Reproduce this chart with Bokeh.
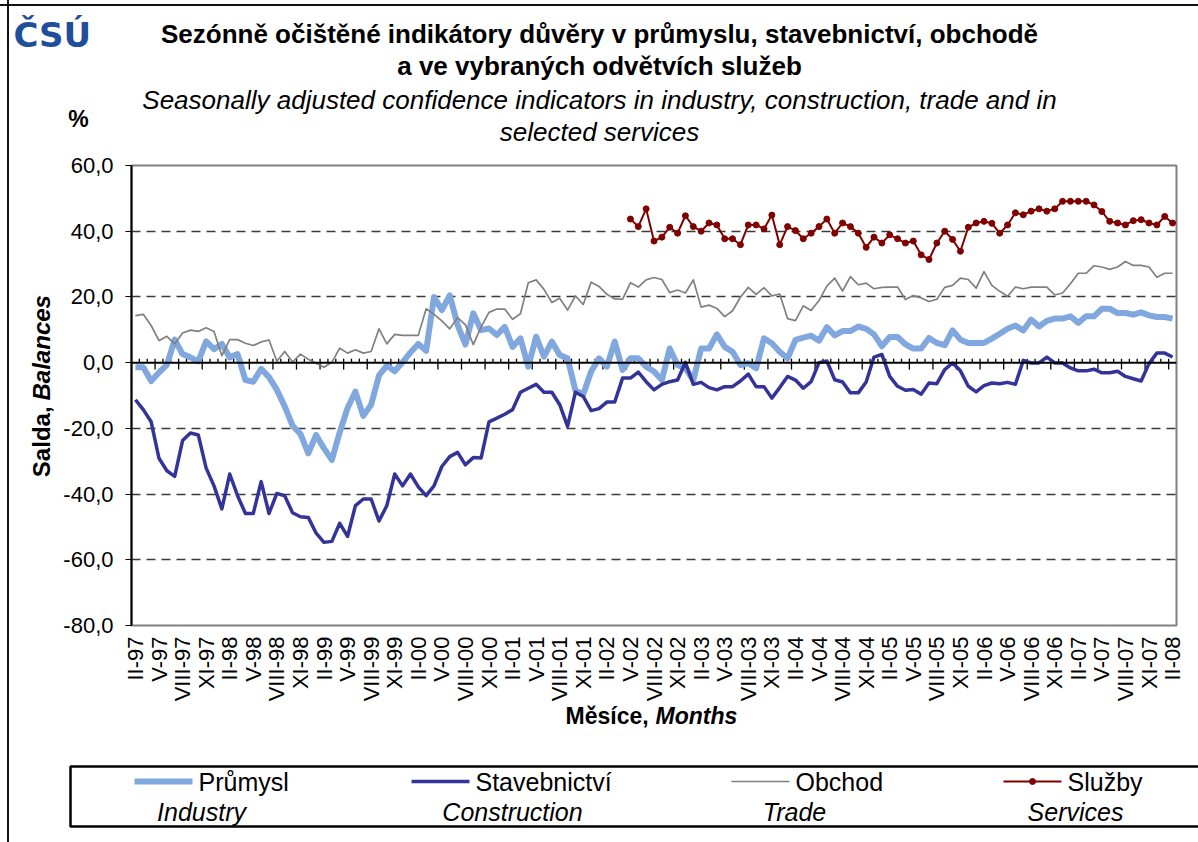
from math import pi
from bokeh.plotting import figure
from bokeh.models import Range1d, FixedTicker, Label, Span
from bokeh.layouts import row
from bokeh.embed import file_html
from bokeh.resources import INLINE

# ---------------- data ----------------
tick_labels = [
    "II-97", "V-97", "VIII-97", "XI-97", "II-98", "V-98", "VIII-98", "XI-98",
    "II-99", "V-99", "VIII-99", "XI-99", "II-00", "V-00", "VIII-00", "XI-00",
    "II-01", "V-01", "VIII-01", "XI-01", "II-02", "V-02", "VIII-02", "XI-02",
    "II-03", "V-03", "VIII-03", "XI-03", "II-04", "V-04", "VIII-04", "XI-04",
    "II-05", "V-05", "VIII-05", "XI-05", "II-06", "V-06", "VIII-06", "XI-06",
    "II-07", "V-07", "VIII-07", "XI-07", "II-08",
]

# monthly values II-97 .. II-08
industry = [
    -1.4, -1.4, -5.6, -3.0, -0.7, 7.0, 2.6, 1.6, 0.4, 6.5,
    4.1, 5.7, 1.6, 2.6, -5.3, -5.8, -1.9, -4.4, -8.3, -13.3,
    -19.2, -21.7, -27.6, -22.0, -26.1, -29.6, -21.2, -13.8, -8.8, -16.2,
    -12.8, -3.9, -0.9, -2.6, 0.1, 3.1, 5.7, 3.6, 20.0, 16.0,
    20.5, 11.5, 5.5, 15.0, 9.9, 10.4, 8.4, 10.9, 4.8, 7.4,
    -1.2, 7.9, 1.8, 6.4, 2.3, 1.3, -8.5, -9.6, -2.7, 1.3,
    -1.2, 6.4, -2.2, 1.3, 1.3, -1.2, -2.7, -5.3, 4.3, -0.7,
    -1.7, -5.3, 4.3, 4.3, 8.6, 4.8, 3.3, -0.7, -0.2, -1.7,
    7.4, 5.9, 3.3, 1.3, 6.9, 7.6, 8.2, 6.7, 10.8, 8.3,
    9.6, 9.6, 11.0, 10.3, 8.6, 5.0, 7.8, 7.8, 5.6, 4.3,
    4.3, 7.5, 6.0, 5.3, 9.8, 7.0, 6.0, 6.0, 6.0, 7.3,
    8.8, 10.3, 11.3, 9.8, 13.1, 11.0, 12.7, 13.4, 13.4, 14.1,
    12.1, 14.1, 14.1, 16.4, 16.4, 15.1, 15.1, 14.6, 15.3, 14.4,
    13.9, 13.9, 13.4,
]

construction = [
    -11.3, -14.3, -18.0, -29.1, -32.9, -34.6, -23.7, -21.4, -22.0, -32.1,
    -37.5, -44.5, -33.9, -40.5, -45.9, -45.9, -36.2, -45.9, -39.8, -40.5,
    -45.7, -46.9, -47.1, -51.9, -54.7, -54.4, -48.9, -52.9, -43.5, -41.5,
    -41.5, -48.2, -43.5, -33.9, -37.5, -33.9, -37.8, -40.5, -37.5, -31.6,
    -28.6, -27.3, -31.1, -28.9, -29.0, -18.0, -16.9, -15.7, -14.3, -9.0,
    -7.8, -6.6, -9.0, -9.0, -12.8, -19.4, -9.0, -10.3, -14.6, -14.0,
    -12.0, -12.0, -4.7, -4.7, -2.9, -5.8, -8.3, -6.6, -5.8, -5.3,
    0.1, -6.6, -6.0, -7.6, -8.3, -7.3, -7.3, -5.6, -3.5, -7.3,
    -7.3, -10.8, -7.6, -4.2, -5.3, -7.8, -5.8, 0.0, 0.5, -5.2,
    -5.9, -9.2, -9.2, -5.9, 1.7, 2.5, -4.2, -7.2, -8.4, -8.2,
    -9.6, -6.2, -6.4, -2.1, -0.1, -2.5, -7.2, -8.9, -7.0, -6.2,
    -6.4, -6.0, -6.6, 0.7, -0.1, -0.1, 1.7, -0.1, -0.1, -1.6,
    -2.5, -2.5, -2.0, -3.1, -3.1, -2.6, -4.2, -4.9, -5.6, -0.3,
    2.9, 2.9, 1.7,
]

trade = [
    14.3, 14.7, 11.3, 6.7, 8.0, 5.7, 9.0, 9.9, 9.5, 10.6,
    9.5, 2.1, 7.0, 7.0, 5.9, 5.2, 6.3, 6.9, 0.4, 3.4,
    0.2, 2.6, 1.0, -0.2, -1.4, 0.1, 4.4, 2.9, 3.9, 2.9,
    3.4, 10.3, 5.7, 8.6, 8.3, 8.3, 8.3, 16.4, 14.7, 12.7,
    10.3, 13.7, 11.5, 5.5, 10.9, 15.3, 16.3, 16.3, 13.2, 14.9,
    24.3, 25.2, 22.3, 18.3, 19.6, 16.0, 20.3, 17.7, 24.5, 23.2,
    20.8, 19.4, 19.3, 24.3, 23.0, 25.2, 25.9, 25.3, 21.3, 22.1,
    21.2, 25.2, 16.9, 17.5, 16.5, 14.0, 15.8, 19.9, 22.9, 20.8,
    22.8, 20.3, 20.9, 13.4, 12.8, 17.3, 15.9, 18.9, 23.3, 25.7,
    21.8, 26.2, 23.7, 24.2, 22.5, 22.9, 23.0, 23.0, 19.2, 20.4,
    19.7, 18.6, 19.3, 22.9, 23.5, 25.7, 25.3, 22.7, 27.7, 23.5,
    21.7, 20.2, 23.0, 22.5, 23.0, 23.0, 23.0, 20.6, 21.2, 24.0,
    27.2, 27.2, 29.5, 29.1, 28.4, 29.1, 30.8, 29.6, 29.6, 29.1,
    26.0, 27.2, 27.2,
]

# services start in V-02 (month index 63)
services_start = 63
services = [
    43.7, 41.4, 46.8, 37.0, 38.2, 41.2, 39.4, 44.7, 41.4, 40.0,
    42.5, 41.9, 37.7, 37.7, 35.9, 41.9, 41.9, 40.7, 44.9, 35.9,
    41.4, 40.2, 37.7, 39.4, 41.4, 43.7, 39.4, 42.5, 41.4, 39.4,
    35.1, 38.2, 36.4, 38.9, 37.7, 36.4, 37.0, 32.8, 31.4, 36.4,
    40.0, 37.5, 33.9, 41.2, 42.5, 43.0, 42.4, 39.4, 41.9, 45.6,
    45.0, 46.1, 46.8, 46.1, 46.8, 49.1, 49.1, 49.1, 49.1, 48.0,
    46.0, 43.0, 42.5, 41.9, 43.2, 43.5, 42.5, 41.9, 44.5, 42.5,
]

y_ticks = [-80, -60, -40, -20, 0, 20, 40, 60]

# ---------------- layout (page pixels) ----------------
n = len(industry)
xs = list(range(n))
sxs = list(range(services_start, services_start + len(services)))
label_pos = list(range(0, n, 3))

W = 1198
H_HEAD = 150
H_MID = 554
H_BOT = 842 - H_HEAD - H_MID
STRIP_W = 60
FRAME_L, FRAME_R, FRAME_T, FRAME_B = 131, 1176, 165, 627
uy = (FRAME_B - FRAME_T) / 140.0
FONT = "Liberation Sans"
B_TOP = FRAME_T - H_HEAD
B_BOT = H_HEAD + H_MID - FRAME_B

LEFT_LINE = "linear-gradient(to right, transparent 7px, #111 7px, #111 9px, transparent 9px)"
TOP_LINE = "linear-gradient(to bottom, transparent 4px, #111 4px, #111 6px, transparent 6px)"


def blank(width, height, xr, yr, bg=LEFT_LINE, **kw):
    f = figure(width=width, height=height, x_range=Range1d(*xr), y_range=Range1d(*yr),
               output_backend="svg", toolbar_location=None,
               x_axis_location=None, y_axis_location=None, **kw)
    f.outline_line_color = None
    f.xgrid.visible = False
    f.ygrid.visible = False
    f.background_fill_color = None
    f.border_fill_color = None
    f.styles = {"background": bg + ", #ffffff"}
    return f


def lab(fig, x, y, text, size, style="normal", align="left", baseline="middle",
        angle=0, color="black", font=FONT):
    fig.add_layout(Label(x=x, y=y, text=text, text_font=font, text_font_size=size,
                         text_font_style=style, text_align=align, text_baseline=baseline,
                         angle=angle, text_color=color))


# ---- header ----
head = blank(W, H_HEAD, (0, W), (H_HEAD, 0), bg=LEFT_LINE + ", " + TOP_LINE, min_border=0)
lab(head, 13, 34, "ČSÚ", "34px", "bold", color="#1F4E9A", font="DejaVu Sans")
lab(head, 599, 33, "Sezónně očištěné indikátory důvěry v průmyslu, stavebnictví, obchodě",
    "26px", "bold", align="center")
lab(head, 599, 65, "a ve vybraných odvětvích služeb", "26px", "bold", align="center")
lab(head, 599, 99, "Seasonally adjusted confidence indicators in industry, construction, trade and in",
    "26px", "italic", align="center")
lab(head, 599, 131, "selected services", "26px", "italic", align="center")
lab(head, 78, 118, "%", "23px", "bold", align="center")

# ---- y-axis title strip ----
strip = blank(STRIP_W, H_MID, (0, STRIP_W), (FRAME_B, FRAME_T),
              min_border_left=0, min_border_right=0, min_border_top=B_TOP, min_border_bottom=B_BOT)
lab(strip, 41, 478, "Salda, ", "24px", "bold", angle=pi / 2)
lab(strip, 41, 478 - 77, "Balances", "24px", "bold italic", angle=pi / 2)

# ---- main chart ----
p = figure(width=W - STRIP_W, height=H_MID,
           x_range=Range1d(-0.5, n - 0.5), y_range=Range1d(-80, 60),
           output_backend="svg", toolbar_location=None,
           min_border_left=FRAME_L - STRIP_W, min_border_right=W - FRAME_R,
           min_border_top=B_TOP, min_border_bottom=B_BOT)
p.background_fill_color = "white"
p.border_fill_color = "white"
p.outline_line_color = "#808080"
p.outline_line_width = 2

p.yaxis.ticker = FixedTicker(ticks=y_ticks)
p.yaxis.major_label_overrides = {t: f"{t},0" for t in y_ticks}
p.yaxis.axis_line_color = "black"
p.yaxis.axis_line_width = 2
p.yaxis.major_tick_line_color = "black"
p.yaxis.major_tick_out = 6
p.yaxis.major_tick_in = 0
p.yaxis.minor_tick_line_color = None
p.yaxis.major_label_standoff = 12
p.yaxis.major_label_text_font = FONT
p.yaxis.major_label_text_font_size = "22px"
p.yaxis.major_label_text_color = "black"

p.xaxis.ticker = FixedTicker(ticks=label_pos)
p.xaxis.major_label_overrides = {i: t for i, t in zip(label_pos, tick_labels)}
p.xaxis.major_label_orientation = pi / 2
p.xaxis.axis_line_color = None
p.xaxis.major_tick_line_color = None
p.xaxis.minor_tick_line_color = None
p.xaxis.major_label_standoff = 5
p.xaxis.major_label_text_font = FONT
p.xaxis.major_label_text_font_size = "22px"
p.xaxis.major_label_text_color = "black"

p.xgrid.visible = False
p.ygrid.ticker = FixedTicker(ticks=[-60, -40, -20, 20, 40])
p.ygrid.grid_line_color = "#3a3a3a"
p.ygrid.grid_line_dash = "9 6"
p.ygrid.grid_line_width = 1.3

p.add_layout(Span(location=0, dimension="width", line_color="black", line_width=2))
minor_t = [i - 0.5 for i in range(1, n)]
major_t = [i - 0.5 for i in range(3, n, 3)]
p.segment(x0=minor_t, y0=[0] * len(minor_t), x1=minor_t, y1=[4 / uy] * len(minor_t),
          line_color="black", line_width=1.3)
p.segment(x0=major_t, y0=[0] * len(major_t), x1=major_t, y1=[-7 / uy] * len(major_t),
          line_color="black", line_width=1.3)

C_IND, C_CON, C_TRA, C_SER = "#80A8DE", "#333399", "#808080", "#800000"
p.line(xs, industry, line_color=C_IND, line_width=6, line_join="round")
p.line(xs, construction, line_color=C_CON, line_width=3.5, line_join="round")
p.line(xs, trade, line_color=C_TRA, line_width=1.7, line_join="round")
p.line(sxs, services, line_color=C_SER, line_width=2)
p.scatter(sxs, services, size=6, fill_color=C_SER, line_color=C_SER)

# ---- bottom: x-axis title + legend ----
y0 = H_HEAD + H_MID
bot = blank(W, H_BOT, (0, W), (842, y0), min_border=0)
lab(bot, 565, 715, "Měsíce, ", "23px", "bold")
lab(bot, 565 + 90, 715, "Months", "23px", "bold italic")

bot.quad(left=[70], right=[1240], top=[766], bottom=[826], fill_color=None,
         line_color="black", line_width=2.5)
items = [
    ("Průmysl", "Industry", C_IND, 6, 134, 201),
    ("Stavebnictví", "Construction", C_CON, 3.5, 411, 512),
    ("Obchod", "Trade", C_TRA, 1.7, 731, 794),
    ("Služby", "Services", C_SER, 2, 1003, 1075),
]
for cz, en, col, lw, x0, xc in items:
    bot.line([x0, x0 + 58], [781, 781], line_color=col, line_width=lw)
    if cz == "Služby":
        bot.scatter([x0 + 29], [781], size=6, fill_color=col, line_color=col)
    lab(bot, x0 + 64, 781, cz, "25px")
    lab(bot, xc, 811, en, "25px", "italic", align="center")

mid = row(strip, p, spacing=0)
open("out.html", "w").write(file_html([head, mid, bot], INLINE))
